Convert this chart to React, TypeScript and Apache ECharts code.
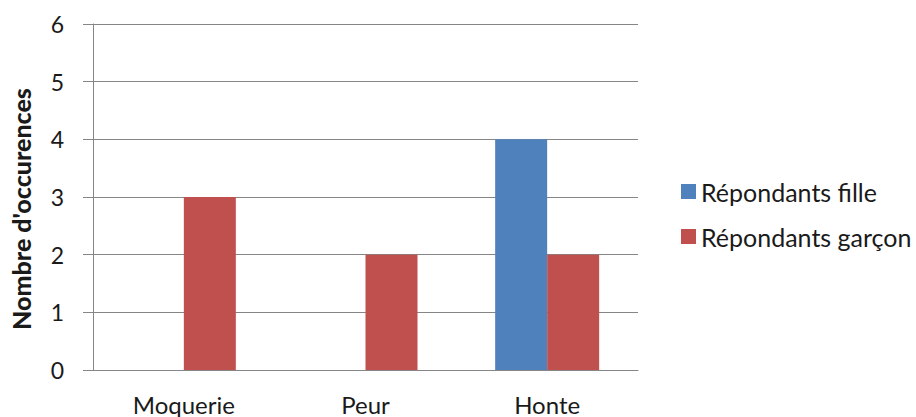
import React, { useEffect, useRef } from "react";
import * as echarts from "echarts";

const categories = ["Moquerie", "Peur", "Honte"];
const filleValues = [0, 0, 4];
const garconValues = [3, 2, 2];
const seriesNames = ["Répondants fille", "Répondants garçon"];
const yAxisName = "Nombre d'occurences";

const FONT = "Lato, 'Liberation Sans', sans-serif";

export default function App() {
  const ref = useRef<HTMLDivElement>(null);
  useEffect(() => {
    if (!ref.current) return;
    const chart = echarts.init(ref.current, undefined, { renderer: "svg" });
    chart.setOption({
      animation: false,
      backgroundColor: "#ffffff",
      textStyle: { fontFamily: FONT },
      grid: { left: 90, right: 278, top: 24, bottom: 47, containLabel: false },
      legend: {
        orient: "vertical",
        left: 676,
        top: 174,
        itemWidth: 15,
        itemHeight: 15,
        itemGap: 20,
        icon: "rect",
        textStyle: { fontFamily: FONT, fontSize: 25, color: "#1a1a1a", lineHeight: 24 },
        data: seriesNames,
      },
      xAxis: {
        type: "category",
        data: categories,
        axisLine: { show: true, lineStyle: { color: "#868686", width: 1 } },
        axisTick: { show: false },
        axisLabel: { fontFamily: FONT, fontSize: 24, lineHeight: 24, color: "#1a1a1a", margin: 22 },
      },
      yAxis: {
        type: "value",
        min: 0,
        max: 6,
        interval: 1,
        name: yAxisName,
        nameLocation: "middle",
        nameGap: 60,
        nameTextStyle: { fontFamily: FONT, fontSize: 25, fontWeight: 900, color: "#1a1a1a", padding: [0, 24, 0, 0] },
        axisLine: { show: true, lineStyle: { color: "#868686", width: 1 } },
        axisTick: { show: true, inside: false, length: 10, lineStyle: { color: "#868686" } },
        axisLabel: { fontFamily: FONT, fontSize: 23, color: "#1a1a1a", margin: 29 },
        splitLine: { show: true, lineStyle: { color: "#868686", width: 1 } },
      },
      series: [
        {
          name: seriesNames[0],
          type: "bar",
          data: filleValues,
          barWidth: 52,
          barGap: "0%",
          itemStyle: { color: "#4F81BD" },
        },
        {
          name: seriesNames[1],
          type: "bar",
          data: garconValues,
          barWidth: 52,
          barGap: "0%",
          itemStyle: { color: "#C0504D" },
        },
      ],
    });
    return () => chart.dispose();
  }, []);
  return (
    <div
      ref={ref}
      style={{ position: "fixed", left: 0, top: 0, width: 916, height: 417, background: "#fff" }}
    />
  );
}
